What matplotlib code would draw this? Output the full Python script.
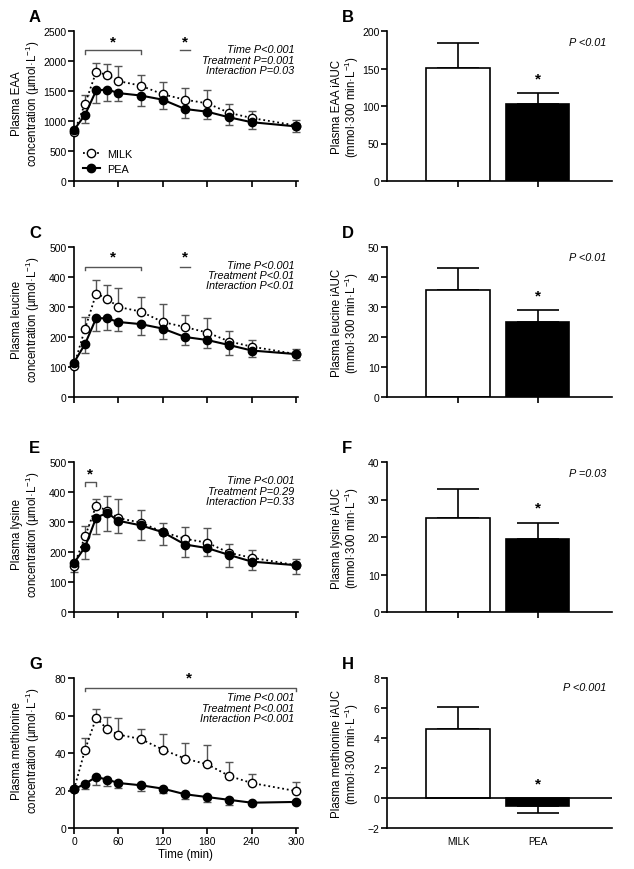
import matplotlib
matplotlib.use("Agg")
import matplotlib.pyplot as plt
from matplotlib.lines import Line2D
import numpy as np

plt.rcParams['font.family'] = ['Liberation Sans', 'DejaVu Sans']
plt.rcParams['mathtext.fontset'] = 'custom'
plt.rcParams['mathtext.rm'] = 'Liberation Sans'
plt.rcParams['mathtext.it'] = 'Liberation Sans:italic'
plt.rcParams['mathtext.default'] = 'regular'

############################################## data

time = [0, 15, 30, 45, 60, 90, 120, 150, 180, 210, 240, 300]

# A: EAA
eaa_milk = [810, 1290, 1820, 1765, 1665, 1590, 1445, 1355, 1295, 1135, 1050, 925]
eaa_milk_sem = [30, 150, 150, 190, 250, 170, 210, 190, 225, 155, 115, 85]
eaa_pea = [850, 1105, 1510, 1525, 1465, 1425, 1355, 1200, 1155, 1060, 980, 910]
eaa_pea_sem = [40, 135, 205, 190, 130, 180, 150, 150, 120, 130, 110, 85]

# C: leucine
leu_milk = [105, 228, 345, 327, 300, 285, 250, 233, 215, 185, 168, 143]
leu_milk_sem = [5, 38, 45, 46, 62, 47, 60, 42, 50, 35, 22, 18]
leu_pea = [115, 177, 263, 262, 250, 243, 228, 200, 190, 173, 155, 143]
leu_pea_sem = [5, 30, 43, 37, 30, 37, 33, 27, 27, 33, 20, 18]

# E: lysine
lys_milk = [155, 252, 355, 337, 313, 298, 267, 244, 231, 197, 181, 156]
lys_milk_sem = [10, 35, 23, 50, 63, 41, 31, 38, 48, 30, 25, 20]
lys_pea = [163, 217, 315, 330, 304, 289, 266, 225, 213, 190, 168, 156]
lys_pea_sem = [30, 39, 55, 60, 40, 48, 44, 42, 27, 40, 27, 28]

# G: methionine
met_milk = [20.6, 41.8, 58.8, 52.6, 49.8, 47.5, 41.8, 37.0, 34.0, 27.7, 24.0, 19.7]
met_milk_sem = [0.5, 6.2, 4.5, 6.8, 9.0, 5.5, 8.5, 8.3, 10.4, 7.3, 4.9, 4.7]
met_pea = [20.6, 23.6, 27.2, 25.8, 24.0, 22.8, 21.0, 18.0, 16.5, 15.0, 13.5, 13.9]
met_pea_sem = [0.5, 2.6, 4.1, 3.6, 2.8, 2.9, 2.2, 2.5, 2.5, 2.9, 0.5, 0.5]

groups = ['MILK', 'PEA']
eaa_auc = [151, 102.5]
eaa_auc_sem = [32.5, 14.5]
leu_auc = [35.7, 25.1]
leu_auc_sem = [7.4, 4.0]
lys_auc = [25.1, 19.4]
lys_auc_sem = [7.6, 4.4]
met_auc = [4.62, -0.56]
met_auc_sem = [1.42, 0.44]

############################################## layout

W, H = 634, 870
fig = plt.figure(figsize=(W / 100, H / 100), dpi=100)

GREY = '#555555'
FS_TICK = 7.5
FS_LAB = 8.3
FS_ANN = 7.8


def axes_px(left, top, width, height):
    return fig.add_axes([left / W, 1 - (top + height) / H, width / W, height / H])


def style(ax):
    for s in ['top', 'right']:
        ax.spines[s].set_visible(False)
    for s in ['left', 'bottom']:
        ax.spines[s].set_linewidth(1.2)
    ax.tick_params(direction='out', length=4, width=1.2, labelsize=FS_TICK, pad=1.5)


def time_panel(ax, milk, milk_sem, pea, pea_sem, ymax, ystep, ylabel, stats, stat_y,
               show_xlabels=False):
    style(ax)
    ax.errorbar(time, milk, yerr=[np.zeros(len(milk)), milk_sem], fmt='none',
                ecolor=GREY, elinewidth=1.0, capsize=3, capthick=1.0, zorder=2, clip_on=False)
    ax.errorbar(time, pea, yerr=[pea_sem, np.zeros(len(pea))], fmt='none',
                ecolor=GREY, elinewidth=1.0, capsize=3, capthick=1.0, zorder=2, clip_on=False)
    ax.plot(time, milk, ls=(0, (1, 1.6)), color='black', lw=1.3, marker='o', ms=6,
            mfc='white', mec='black', mew=1.0, zorder=3, clip_on=False)
    ax.plot(time, pea, ls='-', color='black', lw=1.5, marker='o', ms=6,
            mfc='black', mec='black', zorder=4, clip_on=False)
    ax.set_xlim(0, 302)
    ax.set_ylim(0, ymax)
    ax.set_xticks(range(0, 301, 60))
    ax.set_yticks(np.arange(0, ymax + ystep / 2, ystep))
    if show_xlabels:
        ax.set_xlabel('Time (min)', fontsize=FS_LAB, labelpad=1.5)
    else:
        ax.set_xticklabels([])
    ax.set_ylabel(ylabel, fontsize=FS_LAB, linespacing=1.0)
    ax.yaxis.set_label_coords(-0.145, 0.52)
    for txt, yy in zip(stats, stat_y):
        ax.text(298, yy, txt, ha='right', va='center', fontsize=FS_ANN, style='italic')


def bracket(ax, x0, x1, y, h, star_x, star_y):
    ax.plot([x0, x0, x1, x1], [y - h, y, y, y - h], color=GREY, lw=1.0, clip_on=False)
    ax.text(star_x, star_y, '*', ha='center', va='center', fontsize=11, fontweight='bold',
            clip_on=False)


def bar_panel(ax, vals, sems, ymin, ymax, ystep, ylabel, ptxt, py, star_y, show_xlabels=False):
    style(ax)
    x = np.arange(len(groups))
    ax.bar(x, vals, width=0.79, color=['white', 'black'], edgecolor='black', lw=1.2, zorder=2)
    for xi, v, e in zip(x, vals, sems):
        yerr = [[0], [e]] if v >= 0 else [[e], [0]]
        ax.errorbar([xi], [v], yerr=yerr, fmt='none', ecolor='black', elinewidth=1.2,
                    capsize=15, capthick=1.2, zorder=1)
    ax.set_xlim(-0.89, 1.93)
    ax.set_ylim(ymin, ymax)
    ax.set_yticks(np.arange(ymin, ymax + ystep / 2, ystep))
    ax.set_xticks(x)
    if show_xlabels:
        ax.set_xticklabels(groups, fontsize=7)
        ax.tick_params(axis='x', length=0, pad=6)
        ax.axhline(0, color='black', lw=1.2, zorder=3)
    else:
        ax.set_xticklabels([])
    ax.set_ylabel(ylabel, fontsize=FS_LAB, linespacing=1.0)
    ax.yaxis.set_label_coords(-0.115, 0.5)
    ax.text(1.86, py, ptxt, ha='right', va='center', fontsize=FS_ANN, style='italic')
    ax.text(1, star_y, '*', ha='center', va='center', fontsize=11, fontweight='bold')


tops = [32, 248, 463, 679]
unit = 'µmol·L$^{-1}$'
auc_unit = '(mmol·300 min·L$^{-1}$)'

axA = axes_px(74, tops[0], 223.5, 150)
time_panel(axA, eaa_milk, eaa_milk_sem, eaa_pea, eaa_pea_sem, 2500, 500,
           'Plasma EAA\nconcentration (' + unit + ')',
           ['Time P<0.001', 'Treatment P=0.001', 'Interaction P=0.03'], [2200, 2022, 1850])
bracket(axA, 15, 90, 2180, 60, 52, 2330)
bracket(axA, 143, 157, 2180, 0, 150, 2330)
handles = [Line2D([], [], ls=(0, (1, 1.6)), color='black', lw=1.3, marker='o', ms=6,
                  mfc='white', mec='black'),
           Line2D([], [], ls='-', color='black', lw=1.5, marker='o', ms=6,
                  mfc='black', mec='black')]
axA.legend(handles, groups, loc='lower left', bbox_to_anchor=(0.02, 0.02), frameon=False,
           fontsize=FS_ANN, handlelength=1.6, handletextpad=0.6, labelspacing=0.45,
           borderaxespad=0)

axC = axes_px(74, tops[1], 223.5, 150)
time_panel(axC, leu_milk, leu_milk_sem, leu_pea, leu_pea_sem, 500, 100,
           'Plasma leucine\nconcentration (' + unit + ')',
           ['Time P<0.001', 'Treatment P<0.01', 'Interaction P<0.01'], [441, 406, 372])
bracket(axC, 15, 90, 435, 12, 52, 467)
bracket(axC, 143, 157, 435, 0, 150, 467)

axE = axes_px(74, tops[2], 223.5, 150)
time_panel(axE, lys_milk, lys_milk_sem, lys_pea, lys_pea_sem, 500, 100,
           'Plasma lysine\nconcentration (' + unit + ')',
           ['Time P<0.001', 'Treatment P=0.29', 'Interaction P=0.33'], [439, 404, 369])
bracket(axE, 15, 30, 433, 12, 22, 463)

axG = axes_px(74, tops[3], 223.5, 150)
time_panel(axG, met_milk, met_milk_sem, met_pea, met_pea_sem, 80, 20,
           'Plasma methionine\nconcentration (' + unit + ')',
           ['Time P<0.001', 'Treatment P<0.001', 'Interaction P<0.001'], [69.9, 64.2, 58.7],
           show_xlabels=True)
bracket(axG, 15, 300, 74.8, 1.8, 156, 80.5)

axB = axes_px(387, tops[0], 225, 150)
bar_panel(axB, eaa_auc, eaa_auc_sem, 0, 200, 50, 'Plasma EAA iAUC\n' + auc_unit,
          'P <0.01', 185, 137)
axD = axes_px(387, tops[1], 225, 150)
bar_panel(axD, leu_auc, leu_auc_sem, 0, 50, 10, 'Plasma leucine iAUC\n' + auc_unit,
          'P <0.01', 46.7, 33.8)
axF = axes_px(387, tops[2], 225, 150)
bar_panel(axF, lys_auc, lys_auc_sem, 0, 40, 10, 'Plasma lysine iAUC\n' + auc_unit,
          'P =0.03', 37, 27.8)
axH = axes_px(387, tops[3], 225, 150)
bar_panel(axH, met_auc, met_auc_sem, -2, 8, 2, 'Plasma methionine iAUC\n' + auc_unit,
          'P <0.001', 7.4, 0.95, show_xlabels=True)

# panel letters
for letter, xp, top in [('A', 29, tops[0]), ('B', 342, tops[0]), ('C', 29, tops[1]),
                        ('D', 342, tops[1]), ('E', 29, tops[2]), ('F', 342, tops[2]),
                        ('G', 29, tops[3]), ('H', 342, tops[3])]:
    fig.text(xp / W, 1 - (top - 14) / H, letter, fontsize=12, fontweight='bold',
             ha='left', va='center')

plt.savefig('out.png', dpi=100)
plt.close()
